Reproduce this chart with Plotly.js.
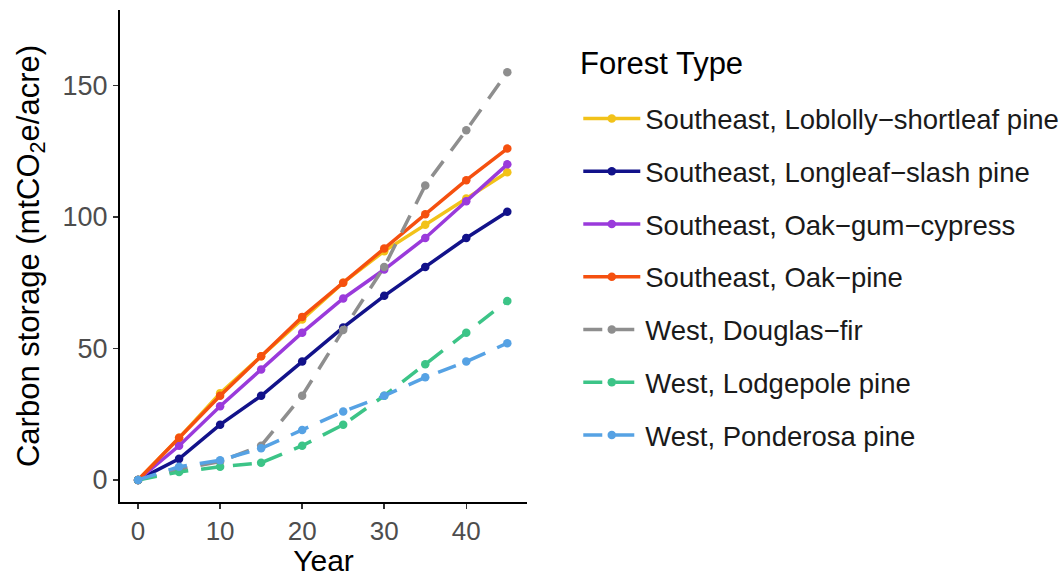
<!DOCTYPE html>
<html>
<head>
<meta charset="utf-8">
<script src="https://cdn.plot.ly/plotly-3.0.1.min.js"></script>
<style>html,body{margin:0;padding:0;background:#fff;}#chart{width:1063px;height:577px;}</style>
</head>
<body>
<div id="chart"></div>
<script>
// Data
var years = [0, 5, 10, 15, 20, 25, 30, 35, 40, 45];

var seriesNames = [
  "Southeast, Loblolly\u2212shortleaf pine",
  "Southeast, Longleaf\u2212slash pine",
  "Southeast, Oak\u2212gum\u2212cypress",
  "Southeast, Oak\u2212pine",
  "West, Douglas\u2212fir",
  "West, Lodgepole pine",
  "West, Ponderosa pine"
];

var loblolly   = [0, 16, 33, 47, 61, 75, 87, 97, 107, 117];
var longleaf   = [0, 8, 21, 32, 45, 58, 70, 81, 92, 102];
var oakGum     = [0, 13, 28, 42, 56, 69, 80, 92, 106, 120];
var oakPine    = [0, 16, 32, 47, 62, 75, 88, 101, 114, 126];
var douglasFir = [0, 4, 7, 13, 32, 57, 81, 112, 133, 155];
var lodgepole  = [0, 3, 5, 6.5, 13, 21, 32, 44, 56, 68];
var ponderosa  = [0, 5, 7.5, 12, 19, 26, 32, 39, 45, 52];

var xTicks = [0, 10, 20, 30, 40];
var yTicks = [0, 50, 100, 150];
var legendTitle = "Forest Type";

var seriesValues = [loblolly, longleaf, oakGum, oakPine, douglasFir, lodgepole, ponderosa];
var colors = ["#F2C219", "#12128A", "#9A3ADB", "#F5500F", "#8E8E8E", "#3CC487", "#56A2E4"];
var dashes = ["solid", "solid", "solid", "solid", "19px,13px", "19px,13px", "19px,13px"];

var traces = seriesNames.map(function (name, i) {
  return {
    x: years,
    y: seriesValues[i],
    name: name,
    type: "scatter",
    mode: "lines+markers",
    legendgroup: "g" + i,
    line: {color: colors[i], width: 3.5, dash: dashes[i]},
    marker: {color: colors[i], size: 8.5}
  };
});

var fontFam = "Liberation Sans, Arial, sans-serif";

var layout = {
  width: 1063,
  height: 577,
  margin: {l: 120, r: 536, t: 10, b: 75, autoexpand: false},
  paper_bgcolor: "#ffffff",
  plot_bgcolor: "#ffffff",
  font: {family: fontFam, color: "#000000"},
  showlegend: true,
  xaxis: {
    range: [-2.2, 47.4],
    tickvals: xTicks,
    ticktext: xTicks.map(String),
    showgrid: false,
    zeroline: false,
    showline: true,
    linecolor: "#000000",
    linewidth: 2,
    ticks: "outside",
    ticklen: 5,
    tickwidth: 1.5,
    tickcolor: "#333333",
    tickfont: {size: 26, color: "#4D4D4D", family: fontFam},
    title: {text: "Year", font: {size: 30, color: "#000000", family: fontFam}, standoff: 10}
  },
  yaxis: {
    range: [-8.4, 178.7],
    tickvals: yTicks,
    ticktext: yTicks.map(String),
    showgrid: false,
    zeroline: false,
    showline: true,
    linecolor: "#000000",
    linewidth: 2,
    ticks: "outside",
    ticklen: 5,
    tickwidth: 1.5,
    tickcolor: "#333333",
    tickfont: {size: 27, color: "#4D4D4D", family: fontFam},
    title: {text: "Carbon storage (mtCO<sub>2</sub>e/acre)", font: {size: 31, color: "#000000", family: fontFam}, standoff: 14}
  },
  legend: {
    x: 1.126,
    xanchor: "left",
    y: 0.829,
    yanchor: "top",
    bgcolor: "rgba(0,0,0,0)",
    font: {size: 27.5, color: "#1a1a1a", family: fontFam},
    itemwidth: 57,
    tracegroupgap: 14
  },
  annotations: [{
    text: legendTitle,
    xref: "paper", yref: "paper",
    x: 1.125, xanchor: "left",
    y: 0.892, yanchor: "middle",
    showarrow: false,
    font: {size: 31, color: "#000000", family: fontFam}
  }]
};

Plotly.newPlot("chart", traces, layout, {displayModeBar: false, staticPlot: true});
</script>
</body>
</html>
